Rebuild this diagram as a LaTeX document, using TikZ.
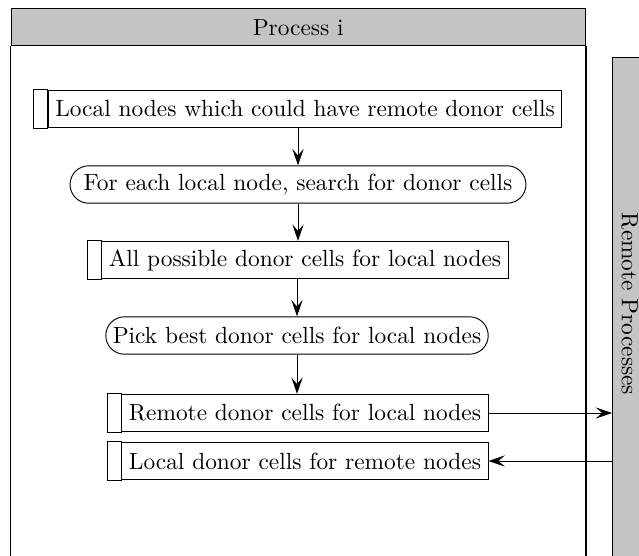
\documentclass[tikz,border=0pt]{standalone}
\usetikzlibrary{arrows.meta}
\definecolor{panelgray}{RGB}{196,196,196}
\begin{document}
\begin{tikzpicture}[x=0.4277pt,y=-0.4277pt,
  databox/.style={draw, rectangle, inner xsep=3pt, inner ysep=0pt, minimum height=16pt},
  procbox/.style={draw, rectangle, rounded corners=8pt, inner xsep=3pt, inner ysep=0pt, minimum height=16pt},
  strip/.style={draw},
  arr/.style={-{Stealth[length=7pt,width=4.8pt,inset=2.8pt]}},
  frame/.style={line width=0.6pt},
  panel/.style={draw, fill=panelgray, line width=0.6pt, inner sep=0pt}]
\clip (0,0) rectangle (639,555);
% process frame
\node[panel, anchor=north west, minimum width=245.5pt, minimum height=15.8pt] (hdr) at (10.5,8) {Process i};
\draw[frame] (hdr.south west) -- ++(0,600);
\draw[frame] (hdr.south east) -- ++(0,600);
% remote panel
\node[panel, anchor=north west, minimum width=30pt, minimum height=250pt] (rp) at (612,57) {};
\node[rotate=-90] (rptext) at (629.5,304) {Remote Processes};
% flow
\node[databox] (b1) at (305,109) {Local nodes which could have remote donor cells};
\draw[strip] (b1.north west) rectangle ([xshift=-6pt]b1.south west);
\node[procbox, minimum width=195pt] (b2) at (298,184.5) {For each local node, search for donor cells};
\node[databox] (b3) at (305,260) {All possible donor cells for local nodes};
\draw[strip] (b3.north west) rectangle ([xshift=-6pt]b3.south west);
\node[procbox, minimum width=163.4pt] (b4) at (297,335.5) {Pick best donor cells for local nodes};
\node[databox] (b5) at (305,413) {Remote donor cells for local nodes};
\draw[strip] (b5.north west) rectangle ([xshift=-6pt]b5.south west);
\node[databox] (b6) at (305,461) {Local donor cells for remote nodes};
\draw[strip] (b6.north west) rectangle ([xshift=-6pt]b6.south west);
% connectors
\draw[arr] (b1.south -| b2.north) -- (b2.north);
\draw[arr] (b2.south) -- (b2.south |- b3.north);
\draw[arr] (b3.south -| b4.north) -- (b4.north);
\draw[arr] (b4.south) -- (b4.south |- b5.north);
\draw[arr] (b5.east) -- (b5.east -| rp.west);
\draw[arr] (b6.east -| rp.west) -- (b6.east);
\end{tikzpicture}
\end{document}
